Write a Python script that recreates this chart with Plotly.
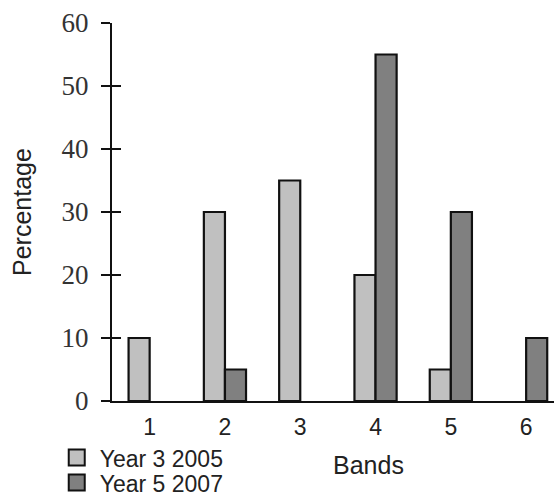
import plotly.graph_objects as go

bands = [1, 2, 3, 4, 5, 6]
year3_2005 = [10, 30, 35, 20, 5, None]
year5_2007 = [None, 5, None, 55, 30, 10]
y_ticks = [0, 10, 20, 30, 40, 50, 60]
series_names = ["Year 3 2005", "Year 5 2007"]
series_colors = ["#c0c0c0", "#808080"]

serif = "Liberation Serif, DejaVu Serif, serif"
sans = "Liberation Sans, Arial, sans-serif"

fig = go.Figure()
for vals, name, col in zip([year3_2005, year5_2007], series_names, series_colors):
    fig.add_trace(go.Bar(x=bands, y=vals, name=name, showlegend=False,
                         marker=dict(color=col, line=dict(color="#111", width=2.2))))

# legend entries (separate legends so each row can be placed exactly)
legend_ids = ["legend", "legend2"]
legend_y = [0.126, 0.076]
for name, col, lid in zip(series_names, series_colors, legend_ids):
    fig.add_trace(go.Scatter(x=[None], y=[None], mode="markers", name=name,
                             legend=lid, hoverinfo="skip",
                             marker=dict(symbol="square", size=16, color=col,
                                         line=dict(color="#111", width=2))))

leg_common = dict(xref="container", yref="container", x=0.097, xanchor="left",
                  yanchor="top", orientation="v",
                  font=dict(family=sans, size=23, color="#222"),
                  bgcolor="rgba(0,0,0,0)", itemwidth=36)

fig.update_layout(
    width=554, height=499,
    margin=dict(l=112, r=0, t=23, b=98, autoexpand=False),
    paper_bgcolor="white", plot_bgcolor="white",
    barmode="group", bargap=0.44, bargroupgap=0,
    showlegend=True,
    legend=dict(y=legend_y[0], **leg_common),
    legend2=dict(y=legend_y[1], **leg_common),
    xaxis=dict(range=[0.5, 6.37], tickmode="array", tickvals=bands,
               ticktext=[str(b) for b in bands], showgrid=False, zeroline=False,
               showline=True, linecolor="#111", linewidth=2, ticks="",
               automargin=False,
               tickfont=dict(family=sans, size=23, color="#222"),
               ticklabelstandoff=4),
    yaxis=dict(range=[0, 60], tickmode="array", tickvals=y_ticks,
               showgrid=False, zeroline=False, showline=True, linecolor="#111",
               linewidth=2, ticks="outside", ticklen=9, tickwidth=2, tickcolor="#111",
               automargin=False,
               tickfont=dict(family=serif, size=27, color="#333"),
               ticklabelstandoff=7),
    yaxis2=dict(range=[0, 60], overlaying="y", side="left", tickmode="array",
                tickvals=y_ticks, showticklabels=False, showgrid=False,
                zeroline=False, showline=False, ticks="inside", ticklen=9,
                tickwidth=2, tickcolor="#111", automargin=False),
)
fig.add_trace(go.Scatter(x=[1], y=[0], yaxis="y2", mode="markers",
                         marker=dict(opacity=0), showlegend=False, hoverinfo="skip"))

fig.add_annotation(text="Bands", xref="paper", yref="paper", x=0.5814, y=-0.169,
                   xanchor="center", yanchor="middle", showarrow=False,
                   font=dict(family=sans, size=25, color="#222"))
fig.add_annotation(text="Percentage", xref="paper", yref="paper", x=-0.2036, y=0.5,
                   xanchor="center", yanchor="middle", showarrow=False, textangle=-90,
                   font=dict(family=sans, size=25, color="#222"))

fig.write_html("out.html", config={"displayModeBar": False},
               post_script="document.body.style.margin='0';document.body.style.overflow='hidden';")
